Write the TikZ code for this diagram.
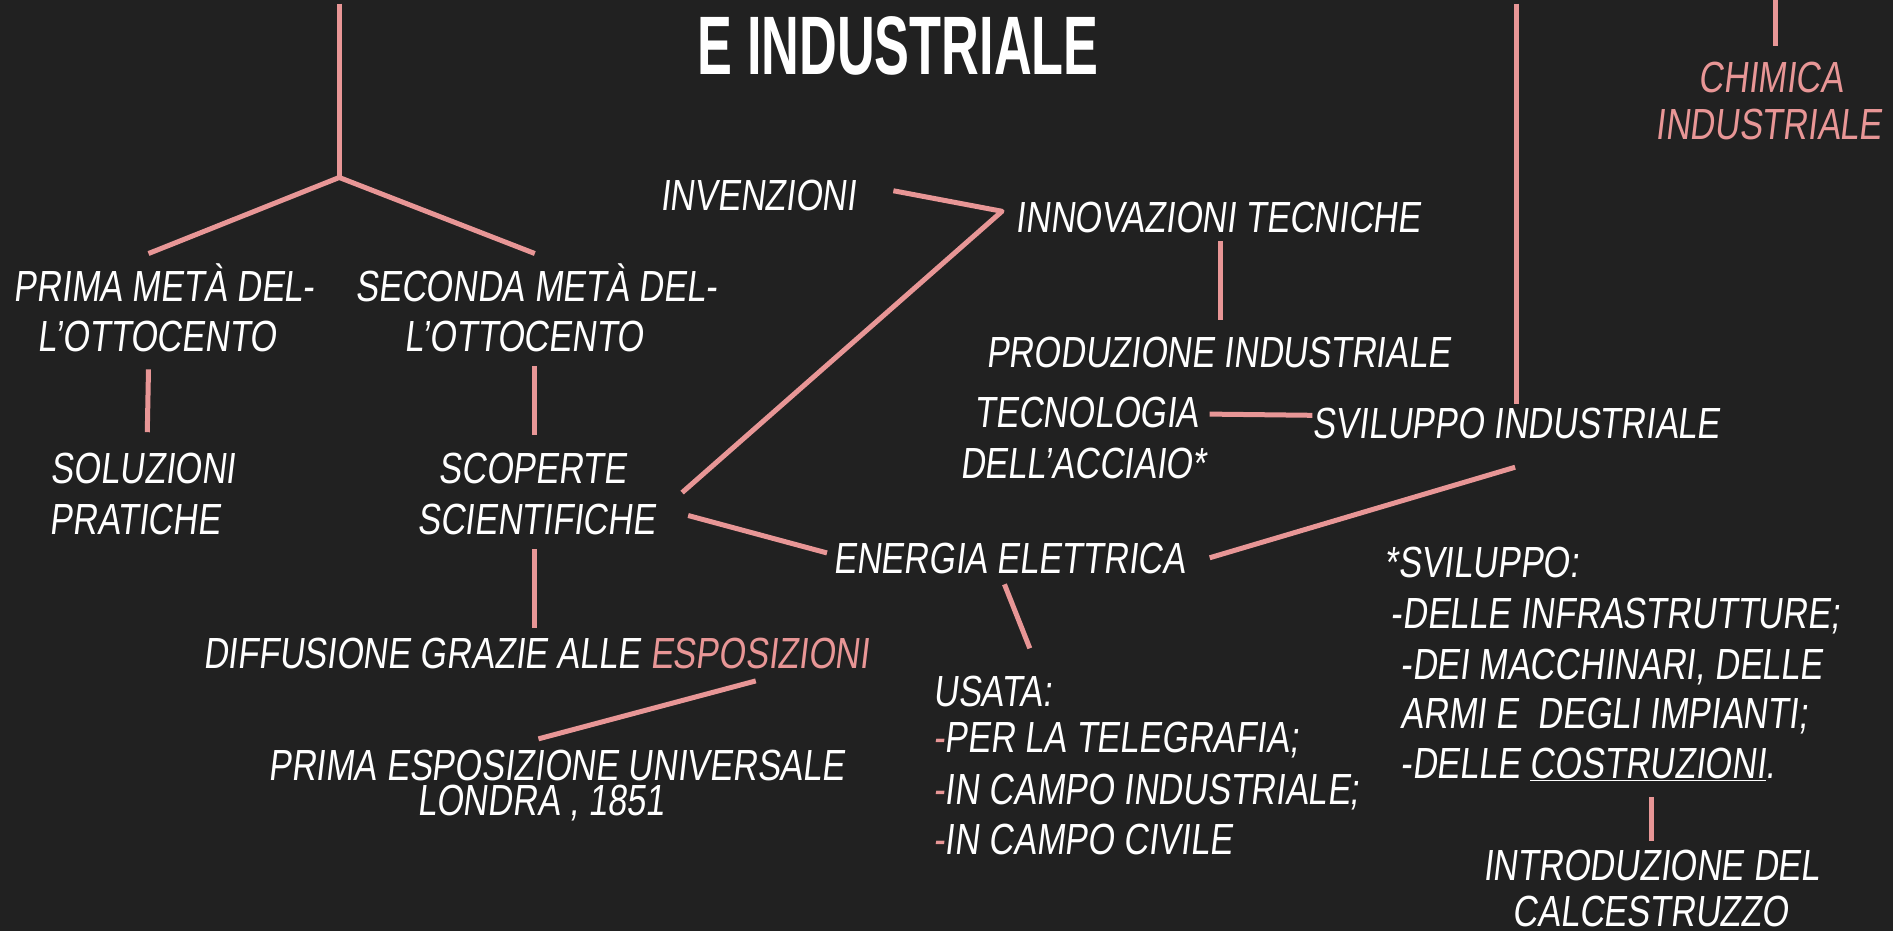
\documentclass[tikz,border=0pt]{standalone}
\usepackage{fontspec}
\newfontfamily\hand[FakeStretch=0.785,FakeSlant=0.12]{Liberation Sans}
\newfontfamily\titlefont[FakeStretch=0.63]{Liberation Sans}
\definecolor{bg}{RGB}{33,33,33}
\definecolor{pk}{RGB}{232,150,150}
\tikzset{
  lbl/.style={font=\hand\fontsize{43.6}{48}\selectfont, text=white, inner sep=0pt, text height=30pt, text depth=0pt},
  lw/.style={lbl, anchor=west},
  conn/.style={draw=pk, line width=5pt},
}
\begin{document}
\begin{tikzpicture}[x=1.2073pt, y=-1.2073pt]
\fill[bg] (0,0) rectangle (1568,771);
\useasboundingbox (0,0) rectangle (1568,771);

% title
\node[font=\titlefont\bfseries\fontsize{83}{90}\selectfont, text=white, inner sep=0pt, text height=57pt, text depth=0pt] (title) at (744,38) {E INDUSTRIALE};

% labels
\node[lbl] (prima1) at (136,237) {PRIMA METÀ DEL-};
\node[lbl] (prima2) at (130,279) {L’OTTOCENTO};
\node[lbl] (sec1) at (444,237) {SECONDA METÀ DEL-};
\node[lbl] (sec2) at (434,279) {L’OTTOCENTO};
\node[lw] (sol1) at (42,388) {SOLUZIONI};
\node[lw] (sol2) at (41,430) {PRATICHE};
\node[lbl] (scop1) at (441,388) {SCOPERTE};
\node[lbl] (scop2) at (444,430) {SCIENTIFICHE};
\node[lbl] (diff) at (444,541) {DIFFUSIONE GRAZIE ALLE \textcolor{pk}{ESPOSIZIONI}};
\node[lbl] (expo1) at (461,634) {PRIMA ESPOSIZIONE UNIVERSALE};
\node[lbl] (expo2) at (448,663) {LONDRA , 1851};
\node[lbl] (inv) at (628,162) {INVENZIONI};
\node[lbl] (innov) at (1009,180) {INNOVAZIONI TECNICHE};
\node[lbl] (prod) at (1009,292) {PRODUZIONE INDUSTRIALE};
\node[lbl] (tec1) at (900,342) {TECNOLOGIA};
\node[lbl] (tec2) at (897,384) {DELL’ACCIAIO*};
\node[lbl] (svil) at (1256,351) {SVILUPPO INDUSTRIALE};
\node[lbl] (ener) at (836,463) {ENERGIA ELETTRICA};
\node[lw] (us0) at (773,573) {USATA:};
\node[lw] (us1) at (773,611) {\textcolor{pk}{-}PER LA TELEGRAFIA;};
\node[lw] (us2) at (773,654) {\textcolor{pk}{-}IN CAMPO INDUSTRIALE;};
\node[lw] (us3) at (773,695) {\textcolor{pk}{-}IN CAMPO CIVILE};
\node[lw] (nt0) at (1147,466) {*SVILUPPO:};
\node[lw] (nt1) at (1152,508) {-DELLE INFRASTRUTTURE;};
\node[lw] (nt2) at (1160,550) {-DEI MACCHINARI, DELLE};
\node[lw] (nt3) at (1160,591) {ARMI E \ DEGLI IMPIANTI;};
\node[lw] (nt4) at (1160,632) {-DELLE \underline{COSTRUZIONI}.};
\node[lbl] (intro1) at (1368,717) {INTRODUZIONE DEL};
\node[lbl] (intro2) at (1367,755) {CALCESTRUZZO};
\node[lbl, text=pk] (chim1) at (1467,64) {CHIMICA};
\node[lbl, text=pk] (chim2) at (1465,103) {INDUSTRIALE};

% connector end points
\coordinate (topL) at (281,3);
\coordinate (fork) at (281,147);
\coordinate (forkL) at (123,210);
\coordinate (forkR) at (443,210);
\coordinate (p2a) at (123,306); \coordinate (p2b) at (122,358);
\coordinate (s2a) at (443,303); \coordinate (s2b) at (443,360);
\coordinate (sc2a) at (443,455); \coordinate (sc2b) at (443,520);
\coordinate (dfa) at (626,564); \coordinate (dfb) at (446,612);
\coordinate (inva) at (740,158); \coordinate (meet) at (830,175);
\coordinate (scup) at (565,408);
\coordinate (ina) at (1011,200); \coordinate (inb) at (1011,265);
\coordinate (tca) at (1002,343); \coordinate (tcb) at (1087,344);
\coordinate (topR) at (1256,3); \coordinate (svtop) at (1256,335);
\coordinate (svbot) at (1255,387); \coordinate (enr) at (1002,462);
\coordinate (scdn) at (570,427); \coordinate (enl) at (685,458);
\coordinate (ena) at (832,484); \coordinate (enb) at (853,537);
\coordinate (csa) at (1368,660); \coordinate (csb) at (1368,697);
\coordinate (topC) at (1471,0); \coordinate (chtop) at (1471,38);

\draw[conn] (topL) -- (fork);
\draw[conn, line join=round] (forkL) -- (fork) -- (forkR);
\draw[conn] (p2a) -- (p2b);
\draw[conn] (s2a) -- (s2b);
\draw[conn] (sc2a) -- (sc2b);
\draw[conn] (dfa) -- (dfb);
\draw[conn, line join=round] (inva) -- (meet) -- (scup);
\draw[conn] (ina) -- (inb);
\draw[conn] (tca) -- (tcb);
\draw[conn] (topR) -- (svtop);
\draw[conn] (svbot) -- (enr);
\draw[conn] (scdn) -- (enl);
\draw[conn] (ena) -- (enb);
\draw[conn] (csa) -- (csb);
\draw[conn] (topC) -- (chtop);
\end{tikzpicture}
\end{document}
